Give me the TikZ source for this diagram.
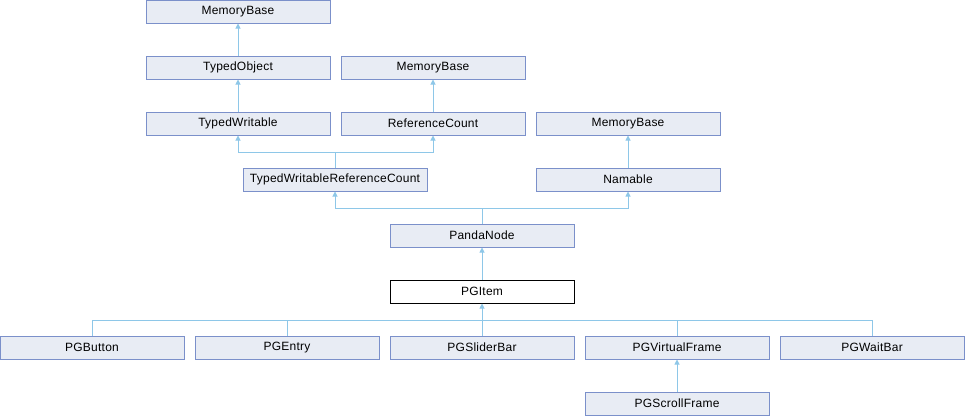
\documentclass[tikz,border=0pt]{standalone}
\usepackage{fontspec}
\setmainfont{Liberation Sans}[LetterSpace=2]
\usepackage{tikz}
\usetikzlibrary{arrows.meta}

\definecolor{boxfill}{HTML}{E8ECF4}
\definecolor{boxline}{HTML}{7B90CA}
\definecolor{edgeblue}{HTML}{8EC7E8}

\begin{document}
\begin{tikzpicture}[x=1pt, y=-1pt,
    cls/.style={draw=boxline, fill=boxfill, line width=1pt, minimum width=184pt,
        minimum height=23pt, inner sep=0pt, font=\fontsize{12}{14}\selectfont},
    cur/.style={cls, draw=black, fill=white},
    inh/.style={draw=edgeblue, line width=1pt, -{Triangle[width=5pt,length=5pt]}}]
            \useasboundingbox (0,0) rectangle (965,416);

            % memory and type bases
            \node[cls] (mbA) at (238,11.5) {MemoryBase};
            \node[cls] (tobj) at (238,67.5) {TypedObject};
            \node[cls] (mbB) at (433,67.5) {MemoryBase};
            \node[cls] (twr) at (238,123.5) {TypedWritable};
            \node[cls] (refc) at (433,123.5) {ReferenceCount};
            \node[cls] (mbC) at (628,123.5) {MemoryBase};
            \node[cls] (twrc) at (335,179.5) {TypedWritableReferenceCount};
            \node[cls] (nam) at (628,179.5) {Namable};

            % the node chain
            \node[cls] (panda) at (482,235.5) {PandaNode};
            \node[cur] (pgitem) at (482,291.5) {PGItem};

            % derived items
            \node[cls] (pgbtn) at (92,347.5) {PGButton};
            \node[cls] (pgent) at (287,347.5) {PGEntry};
            \node[cls] (pgsld) at (482,347.5) {PGSliderBar};
            \node[cls] (pgvf) at (677,347.5) {PGVirtualFrame};
            \node[cls] (pgwait) at (872,347.5) {PGWaitBar};
            \node[cls] (pgscr) at (677,403.5) {PGScrollFrame};

            % bus points
            \coordinate (busA) at (335,152);
            \coordinate (busB) at (482,208);
            \coordinate (busC) at (482,320);

            \draw[inh] (tobj) -- (mbA);
            \draw[inh] (twr) -- (tobj);
            \draw[inh] (refc) -- (mbB);
            \draw[inh] (nam) -- (mbC);

            \draw[inh] (twrc.north) -- (busA) -| (twr.south);
            \draw[inh] (busA) -| (refc.south);

            \draw[inh] (panda.north) -- (busB) -| (twrc.south);
            \draw[inh] (busB) -| (nam.south);

            \draw[inh] (pgitem) -- (panda);

            \draw[inh] (pgsld.north) -- (pgitem.south);
            \foreach \c in {pgbtn,pgent,pgvf,pgwait}
                \draw[edgeblue, line width=1pt] (\c.north) |- (busC);

            \draw[inh] (pgscr) -- (pgvf);
        \end{tikzpicture}
\end{document}
